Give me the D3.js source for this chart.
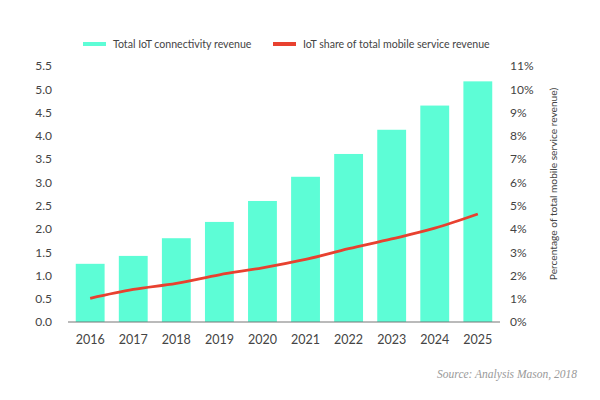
<!DOCTYPE html>
<html lang="en">
<head>
<meta charset="UTF-8">
<title>IoT connectivity revenue</title>
<script src="https://d3js.org/d3.v7.min.js"></script>
<style>
  body { margin: 0; background: #fff; }
  text { font-family: Lato, sans-serif; fill: #444; }
  .tick text { font-size: 12px; }
</style>
</head>
<body>
<div id="chart"></div>
<script>
// data
const years = ["2016","2017","2018","2019","2020","2021","2022","2023","2024","2025"];
const revenue = [1.25, 1.42, 1.80, 2.15, 2.60, 3.12, 3.61, 4.13, 4.65, 5.17];
const share = [1.02, 1.40, 1.66, 2.03, 2.33, 2.69, 3.15, 3.57, 4.03, 4.64];
const leftTicks = [0, 0.5, 1, 1.5, 2, 2.5, 3, 3.5, 4, 4.5, 5, 5.5];
const rightTicks = [0, 1, 2, 3, 4, 5, 6, 7, 8, 9, 10, 11];

const width = 600, height = 400;
const margin = { top: 66, right: 100, bottom: 78, left: 68 };

const svg = d3.select("#chart").append("svg")
  .attr("width", width)
  .attr("height", height);

const x = d3.scaleBand()
  .domain(years)
  .range([margin.left, width - margin.right])
  .paddingInner(0.33)
  .paddingOuter(0.18);

const y = d3.scaleLinear()
  .domain([0, 5.5])
  .range([height - margin.bottom, margin.top]);

const y2 = d3.scaleLinear()
  .domain([0, 11])
  .range([height - margin.bottom, margin.top]);

// bars
svg.append("g")
  .selectAll("rect")
  .data(revenue)
  .join("rect")
  .attr("x", (d, i) => x(years[i]))
  .attr("y", d => y(d))
  .attr("width", x.bandwidth())
  .attr("height", d => y(0) - y(d))
  .attr("fill", "#5dfdd6");

// baseline
svg.append("line")
  .attr("x1", margin.left).attr("x2", width - margin.right)
  .attr("y1", y(0)).attr("y2", y(0))
  .attr("stroke", "#777").attr("stroke-width", 1.2);

// line
const line = d3.line()
  .x((d, i) => x(years[i]) + x.bandwidth() / 2)
  .y(d => y2(d))
  .curve(d3.curveMonotoneX);

svg.append("path")
  .datum(share)
  .attr("d", line)
  .attr("fill", "none")
  .attr("stroke", "#e8412f")
  .attr("stroke-width", 2.8);

// axes
const left = svg.append("g")
  .attr("transform", `translate(${margin.left - 13},0)`)
  .call(d3.axisLeft(y).tickValues(leftTicks).tickFormat(d3.format(".1f")).tickSize(0));
left.select(".domain").remove();

const right = svg.append("g")
  .attr("transform", `translate(${width - margin.right + 10},0)`)
  .call(d3.axisRight(y2).tickValues(rightTicks).tickFormat(d => d + "%").tickSize(0));
right.select(".domain").remove();
right.selectAll("text").attr("x", 0);

const bottom = svg.append("g")
  .attr("transform", `translate(0,${y(0)})`)
  .call(d3.axisBottom(x).tickSize(0));
bottom.select(".domain").remove();
bottom.selectAll("text").attr("dy", "1.55em").style("font-size", "12.5px");

svg.selectAll(".tick text").attr("fill", "#444");

// right axis title
svg.append("text")
  .attr("transform", `translate(557,${(y2(0) + y2(11)) / 2 - 10}) rotate(-90)`)
  .attr("text-anchor", "middle")
  .style("font-size", "10.2px")
  .text("Percentage of total mobile service revenue)");

// legend
const legend = [
  { label: "Total IoT connectivity revenue", color: "#5dfdd6", x: 83 },
  { label: "IoT share of total mobile service revenue", color: "#e8412f", x: 273 }
];
const lg = svg.append("g").selectAll("g").data(legend).join("g")
  .attr("transform", d => `translate(${d.x},44)`);
lg.append("rect")
  .attr("y", -2).attr("width", 23).attr("height", 4)
  .attr("fill", d => d.color);
lg.append("text")
  .attr("x", 30).attr("dy", "0.35em")
  .style("font-size", "10.6px")
  .text(d => d.label);

// source
svg.append("text")
  .attr("x", 577).attr("y", 378)
  .attr("text-anchor", "end")
  .style("font-family", "'Liberation Serif', serif")
  .style("font-style", "italic")
  .style("font-size", "11.5px")
  .style("fill", "#999")
  .text("Source: Analysis Mason, 2018");
</script>
</body>
</html>
